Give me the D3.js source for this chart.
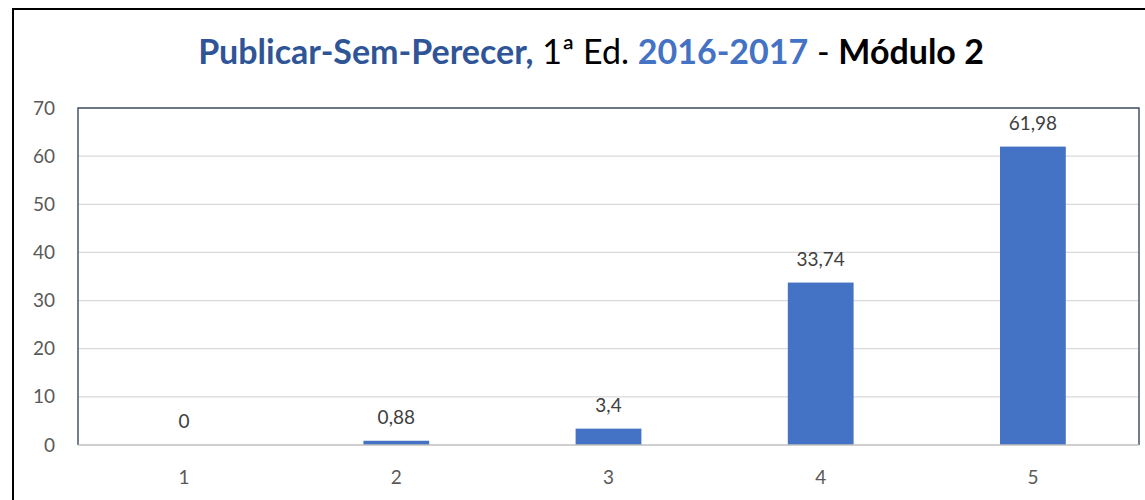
<!DOCTYPE html>
<html>
<head>
<meta charset="utf-8">
<script src="https://cdn.jsdelivr.net/npm/d3@7"></script>
<style>
  body { margin: 0; background: #fff; }
  svg { display: block; font-family: Lato, "Open Sans", sans-serif; }
</style>
</head>
<body>
<svg id="chart" width="1145" height="500"></svg>
<script>
const categories = ["1", "2", "3", "4", "5"];
const values = [0, 0.88, 3.4, 33.74, 61.98];
const valueLabels = ["0", "0,88", "3,4", "33,74", "61,98"];
const yTicks = [0, 10, 20, 30, 40, 50, 60, 70];

const svg = d3.select("#chart");
const plotLeft = 78, plotRight = 1139, plotTop = 108, plotBottom = 445;

// outer frame
svg.append("rect")
  .attr("x", 13).attr("y", 9)
  .attr("width", 1145).attr("height", 520)
  .attr("fill", "none")
  .attr("stroke", "#000")
  .attr("stroke-width", 2);

const x = d3.scaleBand().domain(categories).range([plotLeft, plotRight]).paddingInner(0.69).paddingOuter(0.345);
const y = d3.scaleLinear().domain([0, 70]).range([plotBottom, plotTop]);

// gridlines
svg.append("g")
  .selectAll("line")
  .data(yTicks.slice(1))
  .join("line")
  .attr("x1", plotLeft).attr("x2", plotRight)
  .attr("y1", (d) => y(d)).attr("y2", (d) => y(d))
  .attr("stroke", "#d9d9d9")
  .attr("stroke-width", 1.3);

// plot box (left, top, right)
svg.append("path")
  .attr("d", `M${plotLeft},${plotBottom} L${plotLeft},${plotTop} L${plotRight},${plotTop} L${plotRight},${plotBottom}`)
  .attr("fill", "none")
  .attr("stroke", "#44546a")
  .attr("stroke-width", 1.5);

// bars
svg.append("g")
  .selectAll("rect")
  .data(values)
  .join("rect")
  .attr("x", (d, i) => x(categories[i]))
  .attr("y", (d) => y(d))
  .attr("width", x.bandwidth())
  .attr("height", (d) => y(0) - y(d))
  .attr("fill", "#4472c4");

// baseline
svg.append("line")
  .attr("x1", plotLeft).attr("x2", plotRight)
  .attr("y1", plotBottom).attr("y2", plotBottom)
  .attr("stroke", "#bfbfbf")
  .attr("stroke-width", 1.5);

// y labels
svg.append("g")
  .selectAll("text")
  .data(yTicks)
  .join("text")
  .attr("x", 55)
  .attr("y", (d) => y(d) + 6.5)
  .attr("text-anchor", "end")
  .style("font-size", "19px")
  .style("fill", "#595959")
  .text((d) => d);

// x labels
svg.append("g")
  .selectAll("text")
  .data(categories)
  .join("text")
  .attr("x", (d) => x(d) + x.bandwidth() / 2)
  .attr("y", 484)
  .attr("text-anchor", "middle")
  .style("font-size", "19px")
  .style("fill", "#595959")
  .text((d) => d);

// value labels
svg.append("g")
  .selectAll("text")
  .data(values)
  .join("text")
  .attr("x", (d, i) => x(categories[i]) + x.bandwidth() / 2)
  .attr("y", (d) => y(d) - 17)
  .attr("text-anchor", "middle")
  .style("font-size", "19px")
  .style("fill", "#404040")
  .text((d, i) => valueLabels[i]);

// title
const title = svg.append("text")
  .attr("x", 591)
  .attr("y", 64)
  .attr("text-anchor", "middle")
  .style("font-size", "34px");
title.append("tspan").attr("font-weight", "bold").attr("fill", "#2f5597").text("Publicar-Sem-Perecer,");
title.append("tspan").attr("fill", "#000").text(" 1ª Ed. ");
title.append("tspan").attr("font-weight", "bold").attr("fill", "#4472c4").text("2016-2017");
title.append("tspan").attr("fill", "#000").text(" - ");
title.append("tspan").attr("font-weight", "bold").attr("fill", "#000").text("Módulo 2");
</script>
</body>
</html>
